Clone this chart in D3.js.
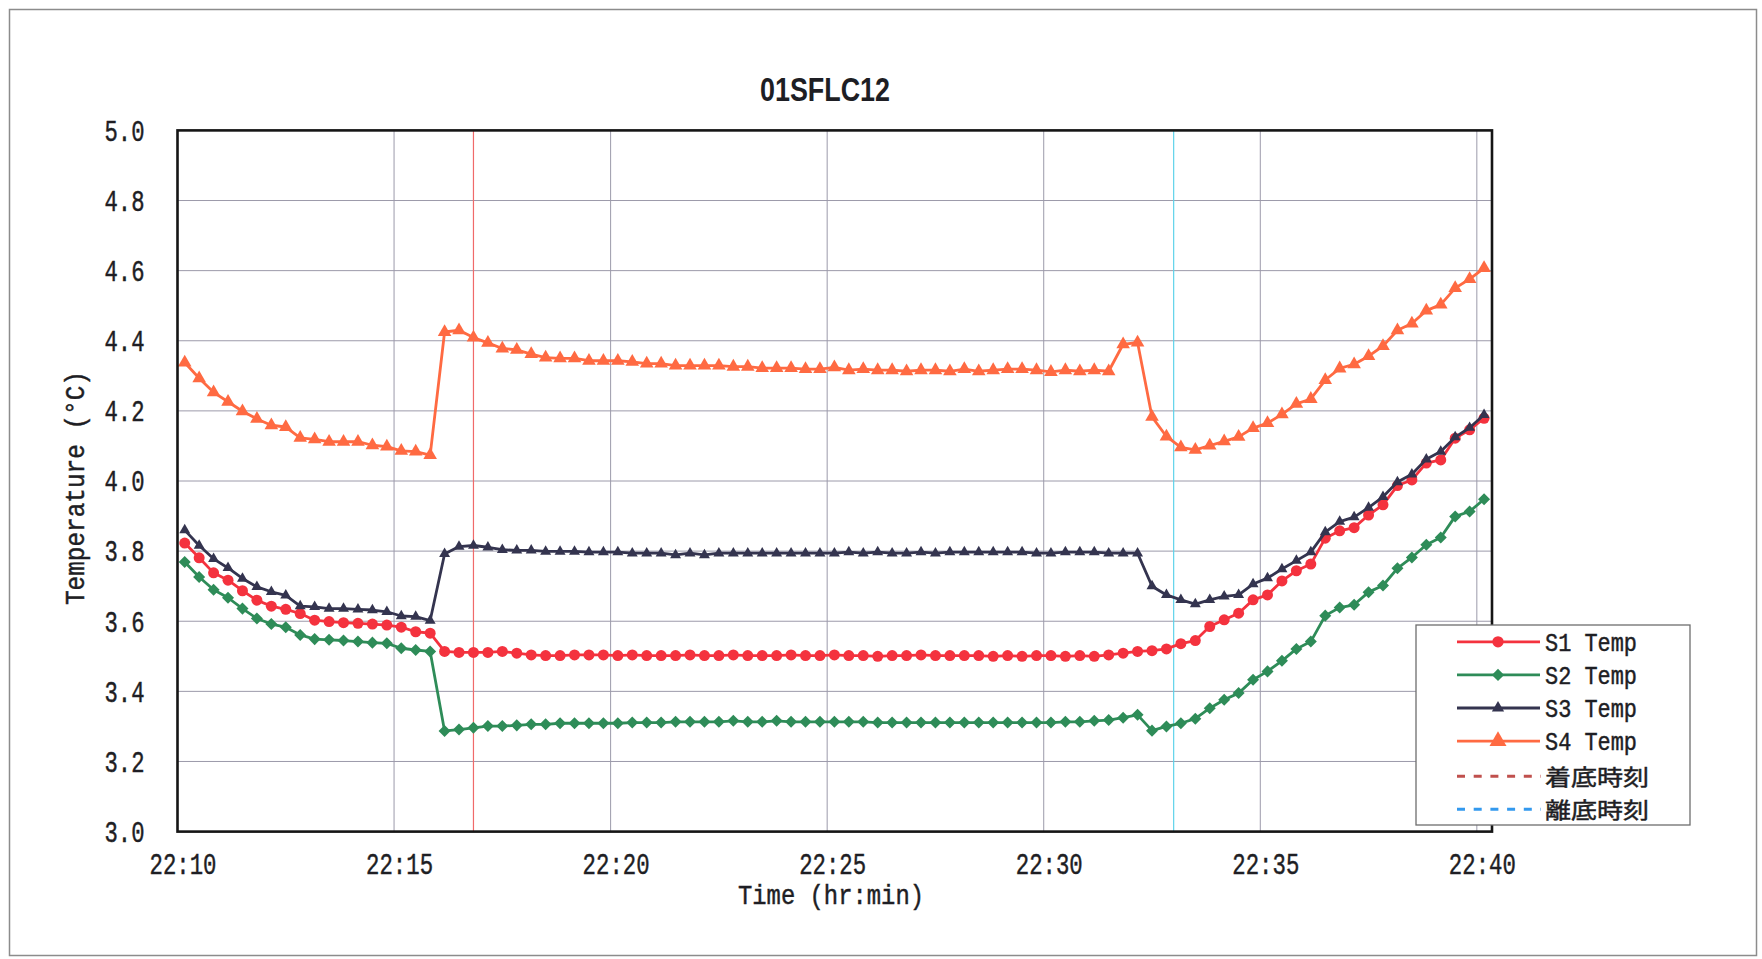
<!DOCTYPE html>
<html><head><meta charset="utf-8">
<script src="https://cdn.jsdelivr.net/npm/d3@7"></script>
<style>html,body{margin:0;padding:0;background:#fff;} svg{display:block;}</style>
</head><body>
<svg id="chart" width="1762" height="959"></svg>
<script>
// ---------------- data ----------------
const chartTitle = "01SFLC12";
const xAxisTitle = "Time (hr:min)";
const yAxisTitle = "Temperature (°C)";
const xTickLabels = ["22:10","22:15","22:20","22:25","22:30","22:35","22:40"];
const yTickLabels = ["3.0","3.2","3.4","3.6","3.8","4.0","4.2","4.4","4.6","4.8","5.0"];
const seriesNames = ["S1 Temp","S2 Temp","S3 Temp","S4 Temp"];
const eventNames = ["着底時刻","離底時刻"];
const eventTimes = ["22:16:50","22:33:00"];
const axisStart = "22:10:00";
const axisEnd = "22:40:21";
const sampleStart = "22:10:10";
const sampleIntervalSec = 20;

const s1 = [3.823,3.781,3.738,3.717,3.687,3.660,3.643,3.634,3.622,3.603,
            3.599,3.596,3.594,3.592,3.589,3.583,3.570,3.566,3.514,3.511,
            3.511,3.511,3.514,3.509,3.504,3.502,3.502,3.504,3.504,3.504,
            3.502,3.504,3.502,3.502,3.502,3.504,3.502,3.502,3.504,3.502,
            3.502,3.502,3.504,3.502,3.502,3.504,3.502,3.502,3.500,3.502,
            3.502,3.504,3.502,3.502,3.502,3.502,3.500,3.502,3.500,3.502,
            3.502,3.500,3.502,3.500,3.504,3.509,3.514,3.516,3.521,3.536,
            3.545,3.585,3.604,3.623,3.661,3.675,3.715,3.744,3.763,3.837,
            3.858,3.867,3.903,3.932,3.987,4.003,4.051,4.060,4.122,4.146,
            4.179];
const s2 = [3.769,3.726,3.690,3.667,3.636,3.608,3.592,3.583,3.561,3.549,
            3.547,3.545,3.542,3.539,3.537,3.523,3.518,3.514,3.287,3.291,
            3.296,3.301,3.301,3.303,3.306,3.306,3.309,3.309,3.309,3.309,
            3.309,3.311,3.311,3.311,3.313,3.313,3.313,3.313,3.316,3.313,
            3.313,3.316,3.313,3.313,3.313,3.313,3.313,3.313,3.311,3.311,
            3.311,3.311,3.311,3.311,3.311,3.311,3.311,3.311,3.311,3.311,
            3.311,3.313,3.313,3.316,3.318,3.325,3.333,3.288,3.300,3.309,
            3.322,3.352,3.376,3.395,3.433,3.457,3.487,3.521,3.542,3.616,
            3.639,3.647,3.683,3.702,3.751,3.782,3.818,3.839,3.899,3.913,
            3.948];
const s3 = [3.860,3.816,3.778,3.752,3.722,3.698,3.684,3.674,3.643,3.641,
            3.636,3.636,3.634,3.632,3.627,3.615,3.613,3.602,3.792,3.813,
            3.816,3.811,3.804,3.802,3.802,3.799,3.799,3.799,3.797,3.797,
            3.797,3.794,3.794,3.794,3.789,3.794,3.789,3.794,3.794,3.794,
            3.794,3.794,3.794,3.794,3.794,3.794,3.797,3.794,3.797,3.794,
            3.794,3.797,3.794,3.797,3.797,3.797,3.797,3.797,3.797,3.794,
            3.794,3.797,3.797,3.797,3.794,3.794,3.794,3.700,3.675,3.661,
            3.649,3.661,3.671,3.675,3.706,3.723,3.749,3.773,3.797,3.854,
            3.884,3.897,3.924,3.955,3.997,4.019,4.062,4.084,4.125,4.152,
            4.189];
const s4 = [4.338,4.293,4.253,4.226,4.199,4.177,4.159,4.154,4.123,4.119,
            4.112,4.112,4.112,4.102,4.098,4.086,4.084,4.074,4.425,4.430,
            4.409,4.394,4.378,4.374,4.362,4.352,4.350,4.350,4.343,4.343,
            4.343,4.340,4.335,4.335,4.329,4.329,4.329,4.329,4.326,4.326,
            4.322,4.322,4.322,4.319,4.319,4.324,4.316,4.319,4.316,4.316,
            4.313,4.316,4.316,4.313,4.319,4.313,4.316,4.319,4.319,4.316,
            4.311,4.316,4.313,4.316,4.313,4.390,4.395,4.183,4.127,4.096,
            4.089,4.101,4.113,4.126,4.151,4.165,4.190,4.220,4.234,4.288,
            4.321,4.333,4.356,4.385,4.430,4.449,4.486,4.503,4.550,4.576,
            4.607];

// ---------------- helpers ----------------
function toSec(s){ const p = s.split(":").map(Number); return p[0]*3600 + p[1]*60 + (p[2]||0); }
const t0 = toSec(axisStart);
const minOf = s => (toSec(s) - t0) / 60;
const sampleMin = i => (toSec(sampleStart) - t0 + i*sampleIntervalSec) / 60;

const svg = d3.select("#chart");
const W = 1762, H = 959;
const plot = {left:177.5, right:1492, top:130.4, bottom:831.6};

const x = d3.scaleLinear().domain([0, minOf(axisEnd)]).range([plot.left, plot.right]);
const y = d3.scaleLinear().domain([+yTickLabels[0], +yTickLabels[yTickLabels.length-1]]).range([plot.bottom, plot.top]);

const monoFont = "'Liberation Mono','DejaVu Sans Mono',monospace";
const ink = "#1e1e24";
function inkText(sel){ return sel.attr("fill",ink).attr("stroke",ink).attr("stroke-width",0.45); }

// background + outer frame
svg.append("rect").attr("x",0).attr("y",0).attr("width",W).attr("height",H).attr("fill","#ffffff");
svg.append("rect").attr("x",9.5).attr("y",9.5).attr("width",1747).attr("height",946)
   .attr("fill","none").attr("stroke","#8c8c8c").attr("stroke-width",1.5);

// plot background
svg.append("rect").attr("x",plot.left).attr("y",plot.top)
   .attr("width",plot.right-plot.left).attr("height",plot.bottom-plot.top).attr("fill","#fff");

// gridlines
const yVals = yTickLabels.map(Number);
const xVals = xTickLabels.map(l => minOf(l + ":00"));
const grid = svg.append("g").attr("stroke","#9c9aaa").attr("stroke-width",1);
grid.selectAll(".hg").data(yVals.slice(1,-1)).join("line")
  .attr("x1",plot.left).attr("x2",plot.right)
  .attr("y1",d=>y(d)).attr("y2",d=>y(d));
grid.selectAll(".vg").data(xVals.slice(1)).join("line")
  .attr("y1",plot.top).attr("y2",plot.bottom)
  .attr("x1",d=>x(d)).attr("x2",d=>x(d));

// event lines
const eventLineColors = ["#f06a6a","#5fd3ea"];
svg.append("g").selectAll("line").data(eventTimes).join("line")
  .attr("x1",d=>x(minOf(d))).attr("x2",d=>x(minOf(d)))
  .attr("y1",plot.top).attr("y2",plot.bottom)
  .attr("stroke",(d,i)=>eventLineColors[i]).attr("stroke-width",1.2);

// series
const colors = ["#f4323e","#2e8c58","#34344f","#ff6a42"];
const symbols = [d3.symbolCircle, d3.symbolDiamond2, d3.symbolTriangle, d3.symbolTriangle];
const symSizes = [95, 92, 52, 80];
const allSeries = [s1,s2,s3,s4];
const line = d3.line().x((d,i)=>x(sampleMin(i))).y(d=>y(d));
const order = [3,0,1,2];
order.forEach(k=>{
  const g = svg.append("g");
  g.append("path").datum(allSeries[k]).attr("d",line)
   .attr("fill","none").attr("stroke",colors[k]).attr("stroke-width",2.8).attr("stroke-linejoin","round");
  g.selectAll("path.m").data(allSeries[k]).join("path").attr("class","m")
   .attr("transform",(d,i)=>`translate(${x(sampleMin(i))},${y(d)})`)
   .attr("d", d3.symbol().type(symbols[k]).size(symSizes[k]))
   .attr("fill",colors[k]);
});

// plot border
svg.append("rect").attr("x",plot.left).attr("y",plot.top)
   .attr("width",plot.right-plot.left).attr("height",plot.bottom-plot.top)
   .attr("fill","none").attr("stroke","#151515").attr("stroke-width",2.6);

// y axis
const yAxis = d3.axisLeft(y).tickValues(yVals).tickSize(0).tickPadding(33)
  .tickFormat((d,i)=>yTickLabels[i]);
const yg = svg.append("g").attr("transform",`translate(${plot.left},0)`).call(yAxis);
yg.select(".domain").remove();
inkText(yg.selectAll("text")).attr("font-family",monoFont).attr("font-size",29)
  .attr("dy","0.34em").attr("textLength",40).attr("lengthAdjust","spacingAndGlyphs");

// x axis
const xAxis = d3.axisBottom(x).tickValues(xVals).tickSize(0).tickPadding(23)
  .tickFormat((d,i)=>xTickLabels[i]);
const xg = svg.append("g").attr("transform",`translate(0,${plot.bottom})`).call(xAxis);
xg.select(".domain").remove();
inkText(xg.selectAll("text")).attr("font-family",monoFont).attr("font-size",29)
  .attr("x",5).attr("dy","0.66em").attr("textLength",67).attr("lengthAdjust","spacingAndGlyphs");

// titles
svg.append("text").attr("x",825).attr("y",101).attr("text-anchor","middle")
  .attr("font-family","'Liberation Sans','Arial',sans-serif").attr("font-weight","bold")
  .attr("font-size",34).attr("fill",ink).attr("textLength",130).attr("lengthAdjust","spacingAndGlyphs")
  .text(chartTitle);
inkText(svg.append("text")).attr("x",831).attr("y",904).attr("text-anchor","middle")
  .attr("font-family",monoFont).attr("font-size",27)
  .attr("textLength",186).attr("lengthAdjust","spacingAndGlyphs").text(xAxisTitle);
inkText(svg.append("text")).attr("transform","translate(84,488) rotate(-90)").attr("text-anchor","middle")
  .attr("font-family",monoFont).attr("font-size",27)
  .attr("textLength",234).attr("lengthAdjust","spacingAndGlyphs").text(yAxisTitle);

// legend
const lg = svg.append("g");
lg.append("rect").attr("x",1416).attr("y",625).attr("width",274).attr("height",200)
  .attr("fill","#fff").attr("stroke","#6e6e6e").attr("stroke-width",1.3);
const rowY = i => 641.8 + i*33.1 + (i >= 4 ? 2 : 0);
const legendSizes = [100, 95, 65, 125];
seriesNames.forEach((name,k)=>{
  lg.append("line").attr("x1",1457).attr("x2",1540).attr("y1",rowY(k)).attr("y2",rowY(k))
    .attr("stroke",colors[k]).attr("stroke-width",2.8);
  lg.append("path").attr("transform",`translate(1498,${rowY(k)})`)
    .attr("d",d3.symbol().type(symbols[k]).size(legendSizes[k])).attr("fill",colors[k]);
  inkText(lg.append("text")).attr("x",1545).attr("y",rowY(k)).attr("dy","0.36em")
    .attr("font-family",monoFont).attr("font-size",25.5)
    .attr("textLength",92).attr("lengthAdjust","spacingAndGlyphs").text(name);
});
const legendEventColors = ["#c0504d","#3399ee"];
eventNames.forEach((name,j)=>{
  const r = rowY(4+j);
  lg.append("line").attr("x1",1457).attr("x2",1541).attr("y1",r).attr("y2",r)
    .attr("stroke",legendEventColors[j]).attr("stroke-width",3).attr("stroke-dasharray","8,8.7");
  inkText(lg.append("text")).attr("x",1545).attr("y",r).attr("dy","0.38em")
    .attr("font-family","'Noto Sans CJK JP',sans-serif").attr("font-size",22)
    .attr("textLength",104).attr("lengthAdjust","spacingAndGlyphs").text(name);
});
</script>
</body></html>
